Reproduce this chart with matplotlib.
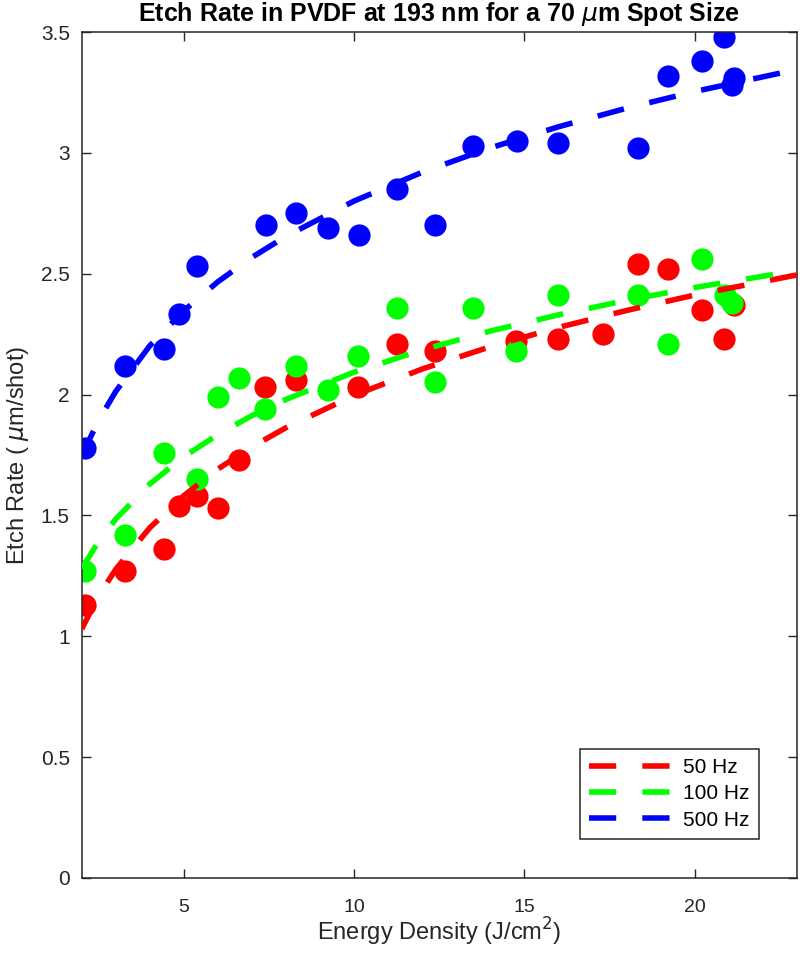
import matplotlib

matplotlib.use("Agg")
import matplotlib.pyplot as plt

plt.rcParams["font.family"] = ["Liberation Sans", "DejaVu Sans"]
plt.rcParams["mathtext.fontset"] = "dejavusans"

# measured points: energy density (J/cm^2) vs etch rate (um/shot)
red_x = [2.11, 3.26, 4.43, 4.87, 5.39, 6.0, 6.61, 7.39, 8.28, 10.12, 11.25, 12.37,
         14.76, 15.97, 17.32, 18.32, 19.22, 20.22, 20.87, 21.15]
red_y = [1.13, 1.27, 1.36, 1.54, 1.58, 1.53, 1.73, 2.03, 2.06, 2.03, 2.21, 2.18,
         2.22, 2.23, 2.25, 2.54, 2.52, 2.35, 2.23, 2.37]

green_x = [2.11, 3.26, 4.43, 5.39, 6.0, 6.61, 7.39, 8.28, 9.24, 10.12, 11.25, 12.37,
           13.48, 14.76, 15.97, 18.32, 19.22, 20.22, 20.9, 21.1]
green_y = [1.27, 1.42, 1.76, 1.65, 1.99, 2.07, 1.94, 2.12, 2.02, 2.16, 2.36, 2.05,
           2.36, 2.18, 2.41, 2.41, 2.21, 2.56, 2.41, 2.38]

blue_x = [2.11, 3.26, 4.43, 4.87, 5.39, 7.41, 8.28, 9.24, 10.14, 11.25, 12.37,
          13.50, 14.78, 15.97, 18.32, 19.22, 20.22, 20.87, 21.15, 21.10]
blue_y = [1.78, 2.12, 2.19, 2.335, 2.53, 2.70, 2.75, 2.69, 2.66, 2.85, 2.70,
          3.03, 3.05, 3.04, 3.02, 3.32, 3.38, 3.48, 3.31, 3.28]

# fit curves
fit_x = [2, 2.5, 3, 4, 5, 6, 7, 8, 10, 12, 14, 16, 18, 20, 23]
red_fit = [1.03, 1.168, 1.277, 1.449, 1.582, 1.692, 1.784, 1.863, 1.997, 2.106,
           2.198, 2.278, 2.348, 2.412, 2.495]
green_fit = [1.28, 1.393, 1.485, 1.630, 1.743, 1.835, 1.913, 1.980, 2.093, 2.185,
             2.263, 2.330, 2.390, 2.443, 2.513]
blue_fit = [1.748, 1.894, 2.013, 2.202, 2.347, 2.467, 2.568, 2.655, 2.801, 2.920,
            3.021, 3.108, 3.185, 3.254, 3.345]

labels = ["50 Hz", "100 Hz", "500 Hz"]
colors = [(1, 0, 0), (0, 1, 0), (0, 0, 1)]
axis_gray = (0.15, 0.15, 0.15)

fig = plt.figure(figsize=(8.0, 9.68), dpi=100)
ax = fig.add_axes([0.1021, 0.0930, 0.8941, 0.8739])

for xs, ys, c in zip([red_x, green_x, blue_x], [red_y, green_y, blue_y], colors):
    ax.plot(xs, ys, "o", color=c, markersize=16, markeredgewidth=0, zorder=2)

for fit, c, lab in zip([red_fit, green_fit, blue_fit], colors, labels):
    ax.plot(fit_x, fit, color=c, linewidth=4, dashes=(4.9, 4.7),
            dash_capstyle="butt", label=lab, zorder=3)

ax.set_xlim(2, 23)
ax.set_ylim(0, 3.5)
ax.set_xticks([5, 10, 15, 20])
ax.set_yticks([0, 0.5, 1, 1.5, 2, 2.5, 3, 3.5])
ax.set_yticklabels(["0", "0.5", "1", "1.5", "2", "2.5", "3", "3.5"])
ax.tick_params(direction="in", length=6.5, width=1, colors=axis_gray,
               top=True, right=True)
ax.tick_params(axis="x", pad=15, labelsize=14)
ax.tick_params(axis="y", pad=8.5, labelsize=15)
for sp in ax.spines.values():
    sp.set_color(axis_gray)
    sp.set_linewidth(1.1)

ax.set_title(r"Etch Rate in PVDF at 193 nm for a 70 $\mu$m Spot Size",
             fontsize=18, fontweight="bold", pad=8)
ax.set_xlabel(r"Energy Density (J/cm$^2$)", fontsize=17, color=axis_gray, labelpad=0)
ax.set_ylabel(r"Etch Rate ( $\mu$m/shot)", fontsize=17, color=axis_gray, labelpad=7)

leg = ax.legend(loc="lower right", bbox_to_anchor=(759 / 800, 129 / 968),
                bbox_transform=fig.transFigure, borderaxespad=0, fontsize=15,
                handlelength=3.95, handletextpad=0.58, labelspacing=0.35,
                borderpad=0.45, fancybox=False, framealpha=1, edgecolor=axis_gray)
leg.get_frame().set_linewidth(1.1)

fig.savefig("out.png", dpi=100)
